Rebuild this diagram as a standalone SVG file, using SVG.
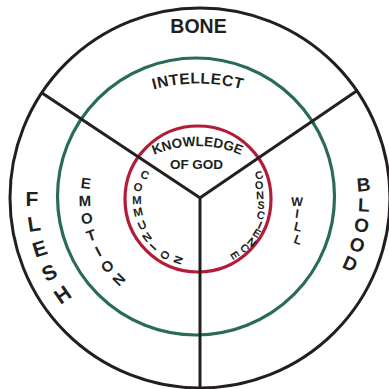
<svg xmlns="http://www.w3.org/2000/svg" width="389" height="389" viewBox="0 0 389 389">
<style>
text{font-family:"Liberation Sans",Arial,sans-serif;font-weight:bold;fill:#231f20;text-anchor:middle}
.v{dominant-baseline:central}
.ring{fill:none}
</style>
<defs>
<path id="arcIntellect" d="M48,173.5 A170,170 0 0 1 348,173.5"/>
<path id="arcKnow" d="M97.5,210.2 A110,110 0 0 1 297.5,210.2"/>
</defs>
<rect width="389" height="389" fill="#ffffff"/>
<g id="rings">
<circle id="outer-ring" class="ring" cx="200" cy="198" r="190" stroke="#231f20" stroke-width="3"/>
<circle id="soul-ring" class="ring" cx="196" cy="196.5" r="138.5" stroke="#2a6b55" stroke-width="3.2"/>
<circle id="spirit-ring" class="ring" cx="198" cy="199" r="73" stroke="#b31c38" stroke-width="3.2"/>
</g>
<g id="connectors" stroke="#231f20" stroke-width="3" fill="none" stroke-linecap="butt">
<line x1="200" y1="198" x2="200" y2="389"/>
<line x1="201" y1="198.5" x2="42" y2="93"/>
<line x1="199" y1="198.5" x2="358" y2="90"/>
</g>
<g id="bone"><text x="198.5" y="33" font-size="19.5">BONE</text></g>
<g id="intellect"><text font-size="15.5" letter-spacing="0.5"><textPath href="#arcIntellect" startOffset="50%">INTELLECT</textPath></text></g>
<g id="knowledge">
<text font-size="13.5"><textPath href="#arcKnow" startOffset="50%">KNOWLEDGE</textPath></text>
<text x="196.5" y="168.5" font-size="13.5">OF GOD</text>
</g>
<g id="flesh">
<text class="v" x="32" y="198" font-size="21">F</text>
<text class="v" x="33.9" y="223.6" font-size="21" transform="rotate(-8.75 33.9 223.6)">L</text>
<text class="v" x="39.8" y="248.5" font-size="21" transform="rotate(-17.5 39.8 248.5)">E</text>
<text class="v" x="49.3" y="272.3" font-size="21" transform="rotate(-26.25 49.3 272.3)">S</text>
<text class="v" x="62.4" y="294.4" font-size="21" transform="rotate(-35 62.4 294.4)">H</text>
</g>
<g id="blood">
<text class="v" x="363.5" y="184.8" font-size="19" transform="rotate(-4.6 363.5 184.8)">B</text>
<text class="v" x="363.8" y="205.1" font-size="19" transform="rotate(2.5 363.8 205.1)">L</text>
<text class="v" x="361.7" y="225.2" font-size="19" transform="rotate(9.5 361.7 225.2)">O</text>
<text class="v" x="357.2" y="244.9" font-size="19" transform="rotate(16.6 357.2 244.9)">O</text>
<text class="v" x="350.2" y="263.9" font-size="19" transform="rotate(23.7 350.2 263.9)">D</text>
</g>
<g id="emotion">
<text class="v" x="86" y="183" font-size="15" transform="rotate(7.5 86 183)">E</text>
<text class="v" x="85" y="200.5" font-size="15" transform="rotate(-1.25 85 200.5)">M</text>
<text class="v" x="86.7" y="218" font-size="15" transform="rotate(-10 86.7 218)">O</text>
<text class="v" x="91.1" y="235" font-size="15" transform="rotate(-18.75 91.1 235)">T</text>
<text class="v" x="98" y="251.1" font-size="15" transform="rotate(-27.5 98 251.1)">I</text>
<text class="v" x="107.3" y="266" font-size="15" transform="rotate(-36.25 107.3 266)">O</text>
<text class="v" x="118.7" y="279.3" font-size="15" transform="rotate(-45 118.7 279.3)">N</text>
</g>
<g id="will">
<text class="v" x="297" y="202" font-size="12.5" transform="rotate(2 297 202)">W</text>
<text class="v" x="297" y="214" font-size="12.5" transform="rotate(8 297 214)">I</text>
<text class="v" x="298" y="227" font-size="12.5" transform="rotate(14 298 227)">L</text>
<text class="v" x="298" y="240" font-size="12.5" transform="rotate(20 298 240)">L</text>
</g>
<g id="communion">
<text class="v" x="145" y="175" font-size="11.5" transform="rotate(22.7 145 175)">C</text>
<text class="v" x="138" y="187" font-size="11.5" transform="rotate(10 138 187)">O</text>
<text class="v" x="137" y="200" font-size="11.5" transform="rotate(-1.8 137 200)">M</text>
<text class="v" x="138" y="212" font-size="11.5" transform="rotate(-12.7 138 212)">M</text>
<text class="v" x="142" y="225" font-size="11.5" transform="rotate(-25 142 225)">U</text>
<text class="v" x="147" y="237" font-size="11.5" transform="rotate(-36.4 147 237)">N</text>
<text class="v" x="153" y="247" font-size="11.5" transform="rotate(-46 153 247)">I</text>
<text class="v" x="165" y="255" font-size="11.5" transform="rotate(-58.5 165 255)">O</text>
<text class="v" x="178" y="260" font-size="11.5" transform="rotate(-70.5 178 260)">N</text>
</g>
<g id="conscience">
<text class="v" x="259" y="175" font-size="11" transform="rotate(-21.3 259 175)">C</text>
<text class="v" x="259" y="185" font-size="11" transform="rotate(-12.4 259 185)">O</text>
<text class="v" x="260" y="195" font-size="11" transform="rotate(-2.9 260 195)">N</text>
<text class="v" x="261" y="205" font-size="11" transform="rotate(6.5 261 205)">S</text>
<text class="v" x="261" y="215" font-size="11" transform="rotate(15.6 261 215)">C</text>
<text class="v" x="260" y="225" font-size="11" transform="rotate(24.2 260 225)">I</text>
<text class="v" x="257" y="233" font-size="11" transform="rotate(31.6 257 233)">E</text>
<text class="v" x="252" y="242" font-size="11" transform="rotate(40.2 252 242)">N</text>
<text class="v" x="245" y="248" font-size="11" transform="rotate(48 245 248)">C</text>
<text class="v" x="235" y="255" font-size="11" transform="rotate(58.4 235 255)">E</text>
</g>
</svg>
